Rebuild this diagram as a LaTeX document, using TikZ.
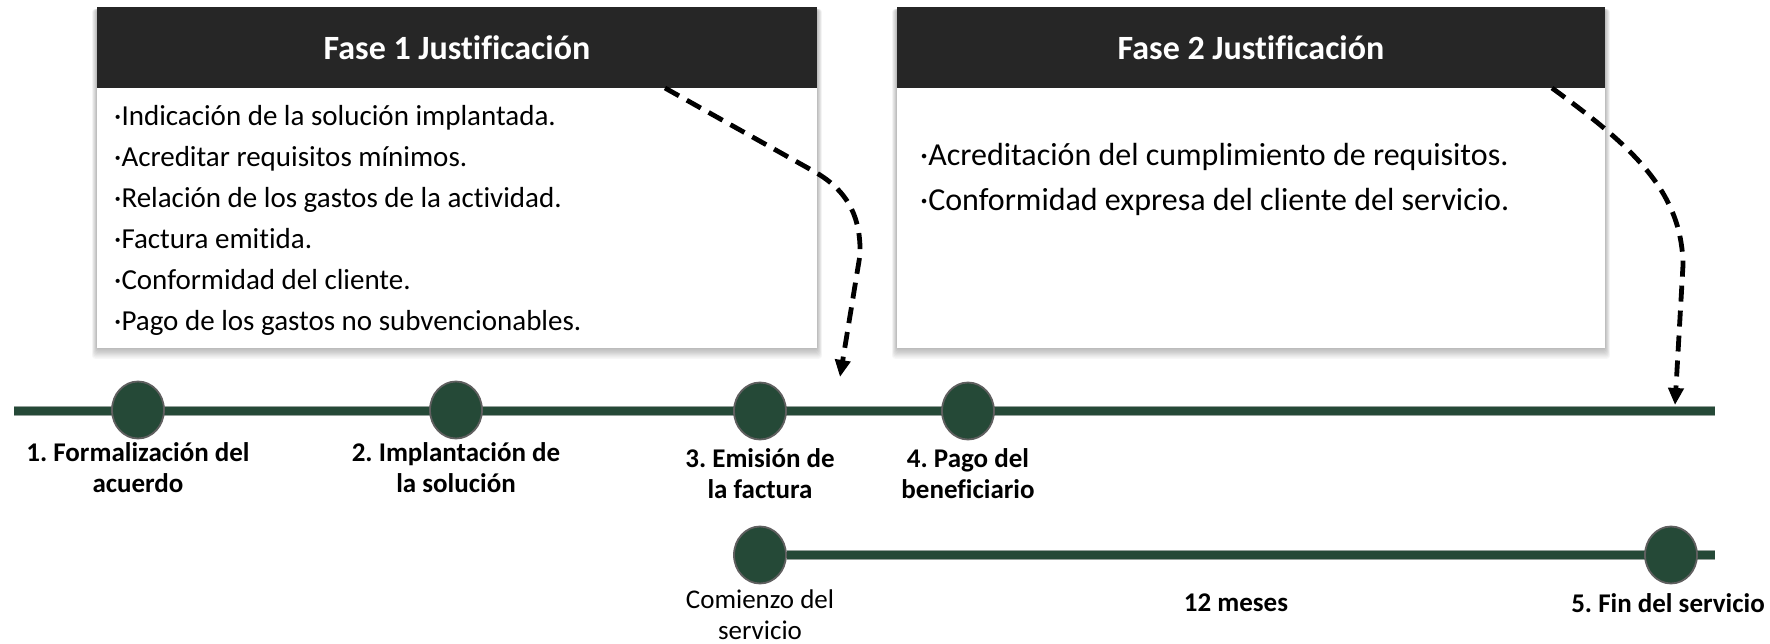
\documentclass[tikz,border=0pt]{standalone}
\usepackage{fontspec}
\setmainfont{Carlito}[Ligatures={NoCommon}]
\frenchspacing
\usetikzlibrary{shapes.geometric,arrows.meta,calc}
\definecolor{tlgreen}{RGB}{37,73,55}
\definecolor{hdr}{RGB}{38,38,38}
\definecolor{rim}{RGB}{95,95,95}
\newcommand\boxshadow[4]{%
  \foreach \i in {1,...,9}{%
    \fill[black,opacity=0.03,rounded corners=3pt] (#1-\i*0.55,#2+2) rectangle (#3+\i*0.55,#4+\i*1.2);}}
\begin{document}
\begin{tikzpicture}[x=1pt,y=-1pt,
  header/.style={rectangle,fill=hdr,text=white,inner sep=0pt,
    font=\fontsize{34}{40}\selectfont\bfseries},
  bodybox/.style={rectangle,fill=white,inner sep=0pt},
  bodytext/.style={anchor=west,align=left,inner sep=0pt},
  dot/.style={ellipse,fill=tlgreen,draw=rim,line width=1.8pt,
    minimum width=52pt,minimum height=57pt,inner sep=0pt},
  lbl/.style={align=center,inner sep=0pt,font=\fontsize{27}{31.5}\selectfont\bfseries},
  lblreg/.style={align=center,inner sep=0pt,font=\fontsize{27}{31}\selectfont},
  tlborder/.style={line width=10.5pt,draw=tlgreen!55!gray!60},
  tlline/.style={line width=8.5pt,draw=tlgreen},
  dasharrow/.style={line width=4.8pt,dash pattern=on 16pt off 9pt,
    -{Triangle[length=17pt,width=15pt]}}]
\useasboundingbox (0,0) rectangle (1770,644);
\fill[white] (0,0) rectangle (1770,644);

% box shadows
\boxshadow{97}{7}{817}{348}
\boxshadow{897}{7}{1605}{348}

% box 1
\node[bodybox,minimum width=720pt,minimum height=260pt] (b1) at (457,218) {};
\node[header,minimum width=720pt,minimum height=81pt] (h1) at (457,47.5) {Fase 1 Justificación};
\node[bodytext,font=\fontsize{29}{41}\selectfont] (t1) at (114,220.5)
  {·Indicación de la solución implantada.\\
   ·Acreditar requisitos mínimos.\\
   ·Relación de los gastos de la actividad.\\
   ·Factura emitida.\\
   ·Conformidad del cliente.\\
   ·Pago de los gastos no subvencionables.};

% box 2
\node[bodybox,minimum width=708pt,minimum height=260pt] (b2) at (1251,218) {};
\node[header,minimum width=708pt,minimum height=81pt] (h2) at (1251,47.5) {Fase 2 Justificación};
\node[bodytext,font=\fontsize{32}{45}\selectfont] (t2) at (920,179.5)
  {·Acreditación del cumplimiento de requisitos.\\
   ·Conformidad expresa del cliente del servicio.};

% timelines
\coordinate (m1) at (14,411);
\coordinate (m2) at (1715,411);
\coordinate (s2) at (1715,555);
\draw[tlborder] (m1) -- (m2);
\draw[tlline] (m1) -- (m2);

\node[dot] (c1) at (138,410) {};
\node[dot] (c2) at (456,410) {};
\node[dot] (c3) at (760,411) {};
\node[dot] (c4) at (968,411) {};
\node[dot] (c5) at (760,555) {};
\draw[tlborder] (c5.east) -- (s2);
\draw[tlline] (c5.east) -- (s2);
\node[dot] (c6) at (1671,555) {};

% labels
\node[lbl] (l1) at (138,467.5) {1. Formalización del\\acuerdo};
\node[lbl] (l2) at (456,467.5) {2. Implantación de\\la solución};
\node[lbl] (l3) at (760,473.5) {3. Emisión de\\la factura};
\node[lbl] (l4) at (968,473.5) {4. Pago del\\beneficiario};
\node[lblreg] (l5) at (760,615) {Comienzo del\\servicio};
\node[lbl] (l6) at (1236,603) {12 meses};
\node[lbl] (l7) at (1668,603) {5. Fin del servicio};

% dashed arrows
\coordinate (a1s) at (665,88);
\coordinate (a1e) at (840,377);
\coordinate (a2s) at (1552,88);
\coordinate (a2e) at (1675,405);
\draw[dasharrow] (a1s) -- (815,172) .. controls (850,192) and (861,220) .. (860,255) -- (a1e);
\draw[dasharrow] (a2s) .. controls (1630,145) and (1682,190) .. (1683,265) -- (a2e);
\end{tikzpicture}
\end{document}
